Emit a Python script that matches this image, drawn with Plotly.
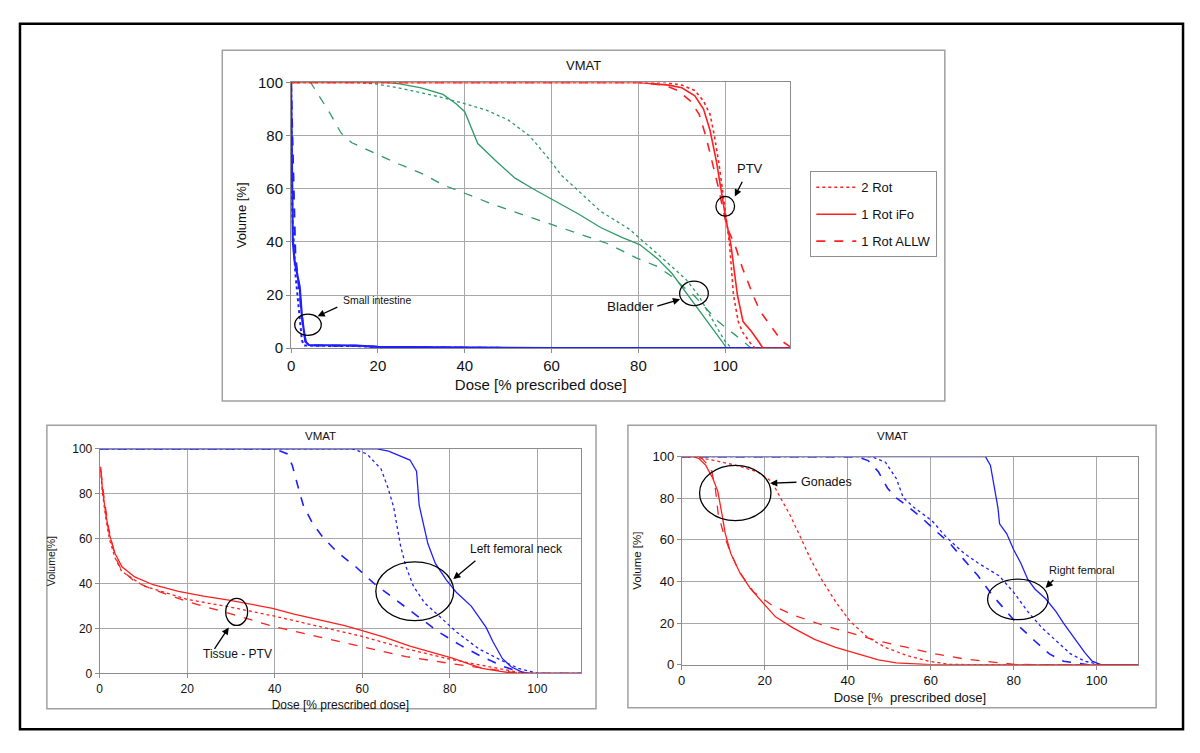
import plotly.graph_objects as go

# ---------------- DATA ----------------
# Top panel: PTV (red), Bladder (green), Small intestine (blue)
ptv_2rot_x = [0, 86, 90, 93, 95, 96.5, 97.5, 98.5, 99.5, 100.3, 101, 101.9, 103, 104, 105.3, 106.2, 107, 115]
ptv_2rot_y = [100, 100, 99, 97, 93, 88, 80, 70, 58, 48, 39, 20, 10, 6, 3, 1, 0, 0]
ptv_ifo_x = [0, 80, 87, 90, 93, 95, 96.5, 98, 99, 100, 101.3, 102, 102.8, 104.1, 106, 107.6, 108.7, 115]
ptv_ifo_y = [100, 100, 99, 98, 95, 90, 82, 70, 60, 50, 39, 30, 20, 10, 6.4, 2.7, 0, 0]
ptv_allw_x = [0, 80, 86, 89, 92, 94, 95.5, 97, 98.5, 99.5, 100.5, 102.2, 104, 106.4, 108, 110.3, 113, 115]
ptv_allw_y = [100, 100, 99, 97, 93, 88, 80, 70, 60, 52, 45, 39, 30, 20, 14, 8.8, 2.7, 0.5]

bl_ifo_x = [0, 22, 25, 30, 35, 38, 40, 43, 47.5, 51.6, 55.7, 59.8, 66.4, 71.3, 76.2, 80.3, 84.4, 87.7, 91.4, 94, 96.1, 98, 99.2, 100.3, 115]
bl_ifo_y = [100, 100, 99.5, 98, 95.5, 92, 89, 77, 70, 64, 60, 56.4, 50.3, 45.4, 41.7, 39, 33.7, 28.2, 20, 14.5, 10, 5.5, 2.7, 0, 0]
bl_2rot_x = [0, 15, 19.7, 24.6, 29.5, 34.4, 40, 45, 50, 55, 59.4, 62.3, 66.4, 71.3, 77.9, 83.6, 87.7, 91, 93.8, 97.3, 99.9, 101.5, 115]
bl_2rot_y = [100, 100, 99.4, 98, 96.3, 94.5, 92, 89.6, 85.9, 79.8, 71.2, 65, 58.9, 51.5, 44.8, 36.8, 30.7, 25.8, 20, 10, 2.7, 0, 0]
bl_allw_x = [0, 4.5, 9, 11.5, 14, 18.9, 23.8, 30.3, 35.2, 40, 46.7, 53.3, 59.8, 66.4, 73, 79.5, 84.4, 87.7, 90.2, 92.7, 98.4, 102.2, 106, 115]
bl_allw_y = [100, 100, 88.3, 81, 77.3, 73.6, 70, 65.6, 61.3, 58.3, 54, 50.3, 46.6, 43, 39.3, 34, 30.7, 27, 23.3, 20, 10, 5.1, 0, 0]

si_ifo_x = [0, 0.4, 0.8, 1.6, 2, 2.5, 3.3, 4.1, 15, 20, 40, 60, 115]
si_ifo_y = [100, 40.5, 33, 27, 23, 12, 2.5, 1.2, 1.0, 0.5, 0.2, 0, 0]
si_allw_x = [0, 0.6, 1, 2, 2.8, 3.5, 5, 15, 20, 40, 60, 115]
si_allw_y = [100, 60, 35, 20, 8, 1.5, 1.0, 0.9, 0.5, 0.2, 0, 0]
si_2rot_x = [0, 0.3, 1, 2, 2.5, 3, 5, 15, 20, 40, 60, 115]
si_2rot_y = [100, 50, 28, 10, 3, 1.0, 0.9, 0.8, 0.4, 0.2, 0, 0]

# Bottom-left panel: Tissue - PTV (red), Left femoral neck (blue)
tis_ifo_x = [0.2, 0.6, 1.4, 2.2, 3.5, 5.1, 8, 12.2, 18, 23.7, 29.5, 34.5, 39.5, 44.4, 51, 56, 60, 65, 70.9, 75.8, 80.8, 84, 87.4, 91.6, 95, 110]
tis_ifo_y = [92, 82.5, 70.8, 62, 53.4, 47.5, 43, 39.5, 36.6, 34.4, 32.7, 30.8, 29, 26.4, 23.5, 21.3, 19.1, 16.2, 12.2, 9.6, 6.7, 4.5, 2.3, 0.9, 0, 0]
tis_2rot_x = [0.2, 0.6, 1.4, 2.2, 3.5, 5, 10, 20, 30, 40, 50, 60, 70, 80, 85, 90, 95, 98, 110]
tis_2rot_y = [91, 81, 69, 60, 51.5, 45.5, 39, 33, 29.5, 25.5, 21, 16.5, 11, 6.4, 4.5, 2.5, 0.8, 0, 0]
tis_allw_x = [0.3, 1, 2, 3.5, 5, 8, 12, 20, 30, 40, 50, 60, 70, 80, 85, 90, 95, 98, 110]
tis_allw_y = [90, 78, 65, 52, 46, 41, 37.5, 32, 26.5, 20.8, 16.3, 11.8, 7.5, 4.5, 3, 1.5, 0.3, 0, 0]

lfn_ifo_x = [0, 63.4, 66, 68.4, 70.9, 72.4, 72.7, 73, 73.8, 75, 76.7, 79.2, 81.6, 84.9, 88.3, 89.9, 92, 94, 96.5, 98, 110]
lfn_ifo_y = [100, 100, 99, 97, 95, 90, 84, 75, 68, 57.7, 49, 41.7, 35.9, 30, 20.5, 14, 6.7, 3, 0.6, 0, 0]
lfn_allw_x = [0, 39.9, 42.8, 44, 45.2, 46.5, 48.6, 51, 54.3, 58.5, 62.6, 67.6, 72.5, 77.5, 82.5, 87.4, 92.4, 95.7, 98.2, 110]
lfn_allw_y = [100, 100, 97.8, 92.7, 84, 75, 67, 60.6, 54, 47.5, 40.2, 33, 25.7, 18.4, 12.5, 7.4, 3, 0.9, 0, 0]
lfn_2rot_x = [0, 57.7, 61, 64.3, 65.9, 67.2, 68, 68.8, 70, 71.7, 74.2, 77.5, 81.6, 86.6, 91.6, 95.7, 99, 100.2, 110]
lfn_2rot_y = [100, 100, 97.8, 91, 82.5, 73.8, 65, 56.3, 47.5, 38.8, 31.5, 25.7, 18.4, 11, 6, 2.3, 0.6, 0, 0]

# Bottom-right panel: Gonades (red), Right femoral (blue)
gon_ifo_x = [0, 2.8, 4.1, 5.8, 7.5, 8.7, 9.7, 10.5, 11.8, 14, 16.6, 20, 22.6, 26.8, 32, 37.1, 42.3, 47.4, 51.7, 56.9, 60, 110]
gon_ifo_y = [100, 100, 99.2, 95.8, 89.5, 83.3, 72.3, 63, 53.6, 44.2, 36.4, 28.6, 23, 17.7, 12.2, 8.3, 5.2, 2.3, 0.9, 0.2, 0, 0]
gon_allw_x = [0, 4, 5, 7.1, 8.1, 8.8, 10.1, 11.8, 14, 17.4, 21.7, 26.8, 33.7, 40.6, 47.4, 54.3, 61.1, 68, 74.9, 80, 85, 110]
gon_allw_y = [100, 100, 98.9, 94.2, 84.8, 72.3, 63, 53.6, 44.2, 34.8, 28.6, 23.9, 19.2, 15.3, 11.4, 8.3, 5.2, 2.8, 1.1, 0.2, 0, 0]
gon_2rot_x = [0, 3, 8, 13.1, 18.3, 21.7, 23.4, 26, 28.6, 31.1, 33.7, 37.1, 40.6, 44.9, 49.1, 54.3, 59.4, 64.6, 70, 110]
gon_2rot_y = [100, 100, 98.1, 95.8, 92.7, 88, 81.7, 72.3, 61.4, 50.5, 41, 30.2, 20.8, 13, 8.3, 4.4, 1.7, 0.2, 0, 0]

rf_ifo_x = [0, 73.2, 74.4, 75.3, 76.2, 76.6, 78.3, 80, 81.7, 83.4, 85.1, 87.7, 90.2, 92, 94.6, 97.1, 98.9, 100.2, 101, 110]
rf_ifo_y = [100, 100, 95.8, 84.8, 75.5, 67.7, 63, 55.2, 48.9, 41, 36.4, 31.7, 25.5, 20, 13, 5.9, 1.7, 0.5, 0, 0]
rf_allw_x = [0, 42.3, 44.9, 47.4, 49.6, 51.7, 54.3, 57.7, 61.1, 64.6, 68, 71.4, 74.9, 78.3, 81.7, 85.1, 88.6, 92, 95.5, 98, 110]
rf_allw_y = [100, 100, 98.1, 92.7, 84.8, 80.2, 76.3, 70.8, 64.5, 58.3, 50.5, 42.7, 33.3, 25.5, 17.7, 11.4, 5.2, 1.7, 0.5, 0, 0]
rf_2rot_x = [0, 45.7, 49.1, 51.7, 53.4, 56, 60.3, 63.7, 68, 71.4, 76.5, 80, 83.4, 86.8, 90.3, 93.7, 97.1, 99.7, 101, 110]
rf_2rot_y = [100, 100, 97.3, 89.5, 80.2, 75.5, 69.2, 61.4, 53.6, 48.9, 42.7, 34.8, 25.5, 17.7, 11.4, 5.2, 1.7, 0.5, 0, 0]

series_names = ["2 Rot", "1 Rot iFo", "1 Rot ALLW"]
x_ticks = [0, 20, 40, 60, 80, 100]
y_ticks = [0, 20, 40, 60, 80, 100]

# ---------------- STYLE ----------------
RED = "#ff1f1f"
GREEN = "#2f9a68"
BLUE = "#1f1fff"
FONT = "Arial, Liberation Sans, sans-serif"
OFF = 8            # default page body margin
W, H = 1184, 737   # figure size so that it fits in the window


def px(x):
    return (x - OFF) / W


def py(y):
    return 1 - (y - OFF) / H


fig = go.Figure()


def add(x, y, color, dash, width, ax, name=None, legend=False, group=None):
    fig.add_trace(go.Scatter(
        x=x, y=y, mode="lines", name=name,
        line=dict(color=color, dash=dash, width=width),
        xaxis=ax[0], yaxis=ax[1], showlegend=legend,
        legendgroup=group, hoverinfo="skip"))


T = ("x", "y")
L = ("x2", "y2")
R = ("x3", "y3")

# top panel
add(bl_2rot_x, bl_2rot_y, GREEN, "dot", 1.3, T)
add(bl_ifo_x, bl_ifo_y, GREEN, "solid", 1.3, T)
add(bl_allw_x, bl_allw_y, GREEN, "dash", 1.3, T)
add(si_2rot_x, si_2rot_y, BLUE, "dot", 2.0, T)
add(si_allw_x, si_allw_y, BLUE, "dash", 2.0, T)
add(si_ifo_x, si_ifo_y, BLUE, "solid", 2.2, T)
add(ptv_2rot_x, ptv_2rot_y, RED, "dot", 1.6, T, series_names[0], True, "a")
add(ptv_ifo_x, ptv_ifo_y, RED, "solid", 1.6, T, series_names[1], True, "b")
add(ptv_allw_x, ptv_allw_y, RED, "dash", 1.6, T, series_names[2], True, "c")

# bottom-left
add(lfn_2rot_x, lfn_2rot_y, BLUE, "dot", 1.3, L)
add(lfn_allw_x, lfn_allw_y, BLUE, "dash", 1.6, L)
add(lfn_ifo_x, lfn_ifo_y, BLUE, "solid", 1.3, L)
add(tis_2rot_x, tis_2rot_y, RED, "dot", 1.3, L)
add(tis_allw_x, tis_allw_y, RED, "dash", 1.3, L)
add(tis_ifo_x, tis_ifo_y, RED, "solid", 1.3, L)

# bottom-right
add(rf_2rot_x, rf_2rot_y, BLUE, "dot", 1.3, R)
add(rf_allw_x, rf_allw_y, BLUE, "dash", 1.6, R)
add(rf_ifo_x, rf_ifo_y, BLUE, "solid", 1.3, R)
add(gon_2rot_x, gon_2rot_y, RED, "dot", 1.3, R)
add(gon_allw_x, gon_allw_y, RED, "dash", 1.3, R)
add(gon_ifo_x, gon_ifo_y, RED, "solid", 1.3, R)


def xax(domain, rng, size, title, tsize, standoff):
    return dict(domain=domain, range=rng, tickvals=x_ticks, showgrid=True,
                gridcolor="#a8a8a8", gridwidth=1, showline=True, linecolor="#8c8c8c",
                linewidth=1, mirror=True, ticks="outside", ticklen=4, tickcolor="#8c8c8c",
                tickfont=dict(size=size, color="#111", family=FONT), zeroline=False,
                title=dict(text=title, font=dict(size=tsize, color="#111", family=FONT),
                           standoff=standoff))


def yax(domain, anchor, size, title, tsize, standoff):
    return dict(domain=domain, range=[0, 100], tickvals=y_ticks, showgrid=True,
                gridcolor="#a8a8a8", gridwidth=1, showline=True, linecolor="#8c8c8c",
                linewidth=1, mirror=True, ticks="outside", ticklen=4, tickcolor="#8c8c8c",
                tickfont=dict(size=size, color="#111", family=FONT), zeroline=False,
                anchor=anchor,
                title=dict(text=title, font=dict(size=tsize, color="#111", family=FONT),
                           standoff=standoff))


fig.update_layout(
    width=W, height=H, autosize=False,
    margin=dict(l=0, r=0, t=0, b=0),
    paper_bgcolor="white", plot_bgcolor="white",
    font=dict(family=FONT, color="#111"),
    xaxis=xax([px(288), px(789)], [0, 115], 15, "Dose [% prescribed dose]", 15, 6),
    yaxis=yax([py(347), py(75)], "x", 15, "Volume [%]", 13, 8),
    xaxis2=xax([px(96), px(579)], [0, 110], 12, "Dose [% prescribed dose]", 12, 5) | dict(anchor="y2"),
    yaxis2=yax([py(680), py(450)], "x2", 12, "Volume[%]", 10.5, 14),
    xaxis3=xax([px(680), px(1138)], [0, 110], 13, "Dose [%  prescribed dose]", 13, 5) | dict(anchor="y3"),
    yaxis3=yax([py(671), py(458)], "x3", 13, "Volume [%]", 11.5, 8),
    legend=dict(x=px(809), y=py(166), xanchor="left", yanchor="top",
                bgcolor="white", bordercolor="#909090", borderwidth=1,
                font=dict(size=13, family=FONT, color="#111"),
                tracegroupgap=7, itemwidth=40),
)

shapes = []
# outer frame and panel boxes
shapes.append(dict(type="rect", xref="paper", yref="paper", x0=px(16), x1=px(1183), y0=py(737), y1=py(15),
                   line=dict(color="black", width=2.5)))
for (a, b, c, d) in [(219, 42, 944, 401), (43, 426, 594, 716), (626, 426, 1156, 715)]:
    shapes.append(dict(type="rect", xref="paper", yref="paper", x0=px(a), x1=px(c), y0=py(d), y1=py(b),
                       line=dict(color="#a0a0a0", width=1.5), layer="below"))


def ellipse(xr, yr, cx, cy, w, h):
    shapes.append(dict(type="circle", xref=xr, yref=yr, x0=cx - w / 2, x1=cx + w / 2,
                       y0=cy - h / 2, y1=cy + h / 2, line=dict(color="black", width=1.3)))


ellipse("x", "y", 3.9, 8.8, 6.1, 8)
ellipse("x", "y", 100, 53.4, 4.3, 7.4)
ellipse("x", "y", 92.8, 20.6, 6.6, 9.2)
ellipse("x2", "y2", 72, 36.6, 17.8, 26.2)
ellipse("x2", "y2", 31.3, 27.4, 5, 12)
ellipse("x3", "y3", 12.9, 82.5, 17.2, 26.6)
ellipse("x3", "y3", 81, 31.4, 14.6, 19.5)

fig.update_layout(shapes=shapes)

ann = []


def text(xr, yr, x, y, t, size, xanchor="center"):
    ann.append(dict(xref=xr, yref=yr, x=x, y=y, text=t, showarrow=False, xanchor=xanchor,
                    yanchor="middle", font=dict(size=size, family=FONT, color="#111")))


def arrow(xr, yr, x0, y0, x1, y1):
    ann.append(dict(xref=xr, yref=yr, axref=xr, ayref=yr, ax=x0, ay=y0, x=x1, y=y1, text="",
                    showarrow=True, arrowhead=2, arrowsize=1.1, arrowwidth=1.3, arrowcolor="black"))


text("x", "y", 19.8, 18.3, "Small intestine", 10.5)
arrow("x", "y", 11, 15.7, 6.1, 12)
text("x", "y", 105.7, 67.8, "PTV", 13)
arrow("x", "y", 104.1, 63.2, 102.2, 57.1)
text("x", "y", 84, 15.7, "Bladder", 13.5, "right")
arrow("x", "y", 84, 15.7, 89.6, 18.4)
text("x2", "y2", 95.3, 55.5, "Left femoral neck", 12)
arrow("x2", "y2", 86.2, 50.7, 80.8, 42)
text("x2", "y2", 31.6, 8.6, "Tissue - PTV", 12)
arrow("x2", "y2", 26, 10.3, 29.5, 20.5)
text("x3", "y3", 35, 87.7, "Gonades", 12.5)
arrow("x3", "y3", 28, 87.7, 21.3, 87.2)
text("x3", "y3", 96.3, 45.5, "Right femoral", 11)
arrow("x3", "y3", 89.9, 41.4, 87.7, 36.9)

# panel titles
for (cx, cy, s) in [(581, 58, 13), (318, 437, 11.5), (891, 437, 11.5)]:
    ann.append(dict(xref="paper", yref="paper", x=px(cx), y=py(cy), text="VMAT", showarrow=False,
                    xanchor="center", yanchor="middle",
                    font=dict(size=s, family=FONT, color="#111")))

fig.update_layout(annotations=ann)

fig.write_html("out.html")
